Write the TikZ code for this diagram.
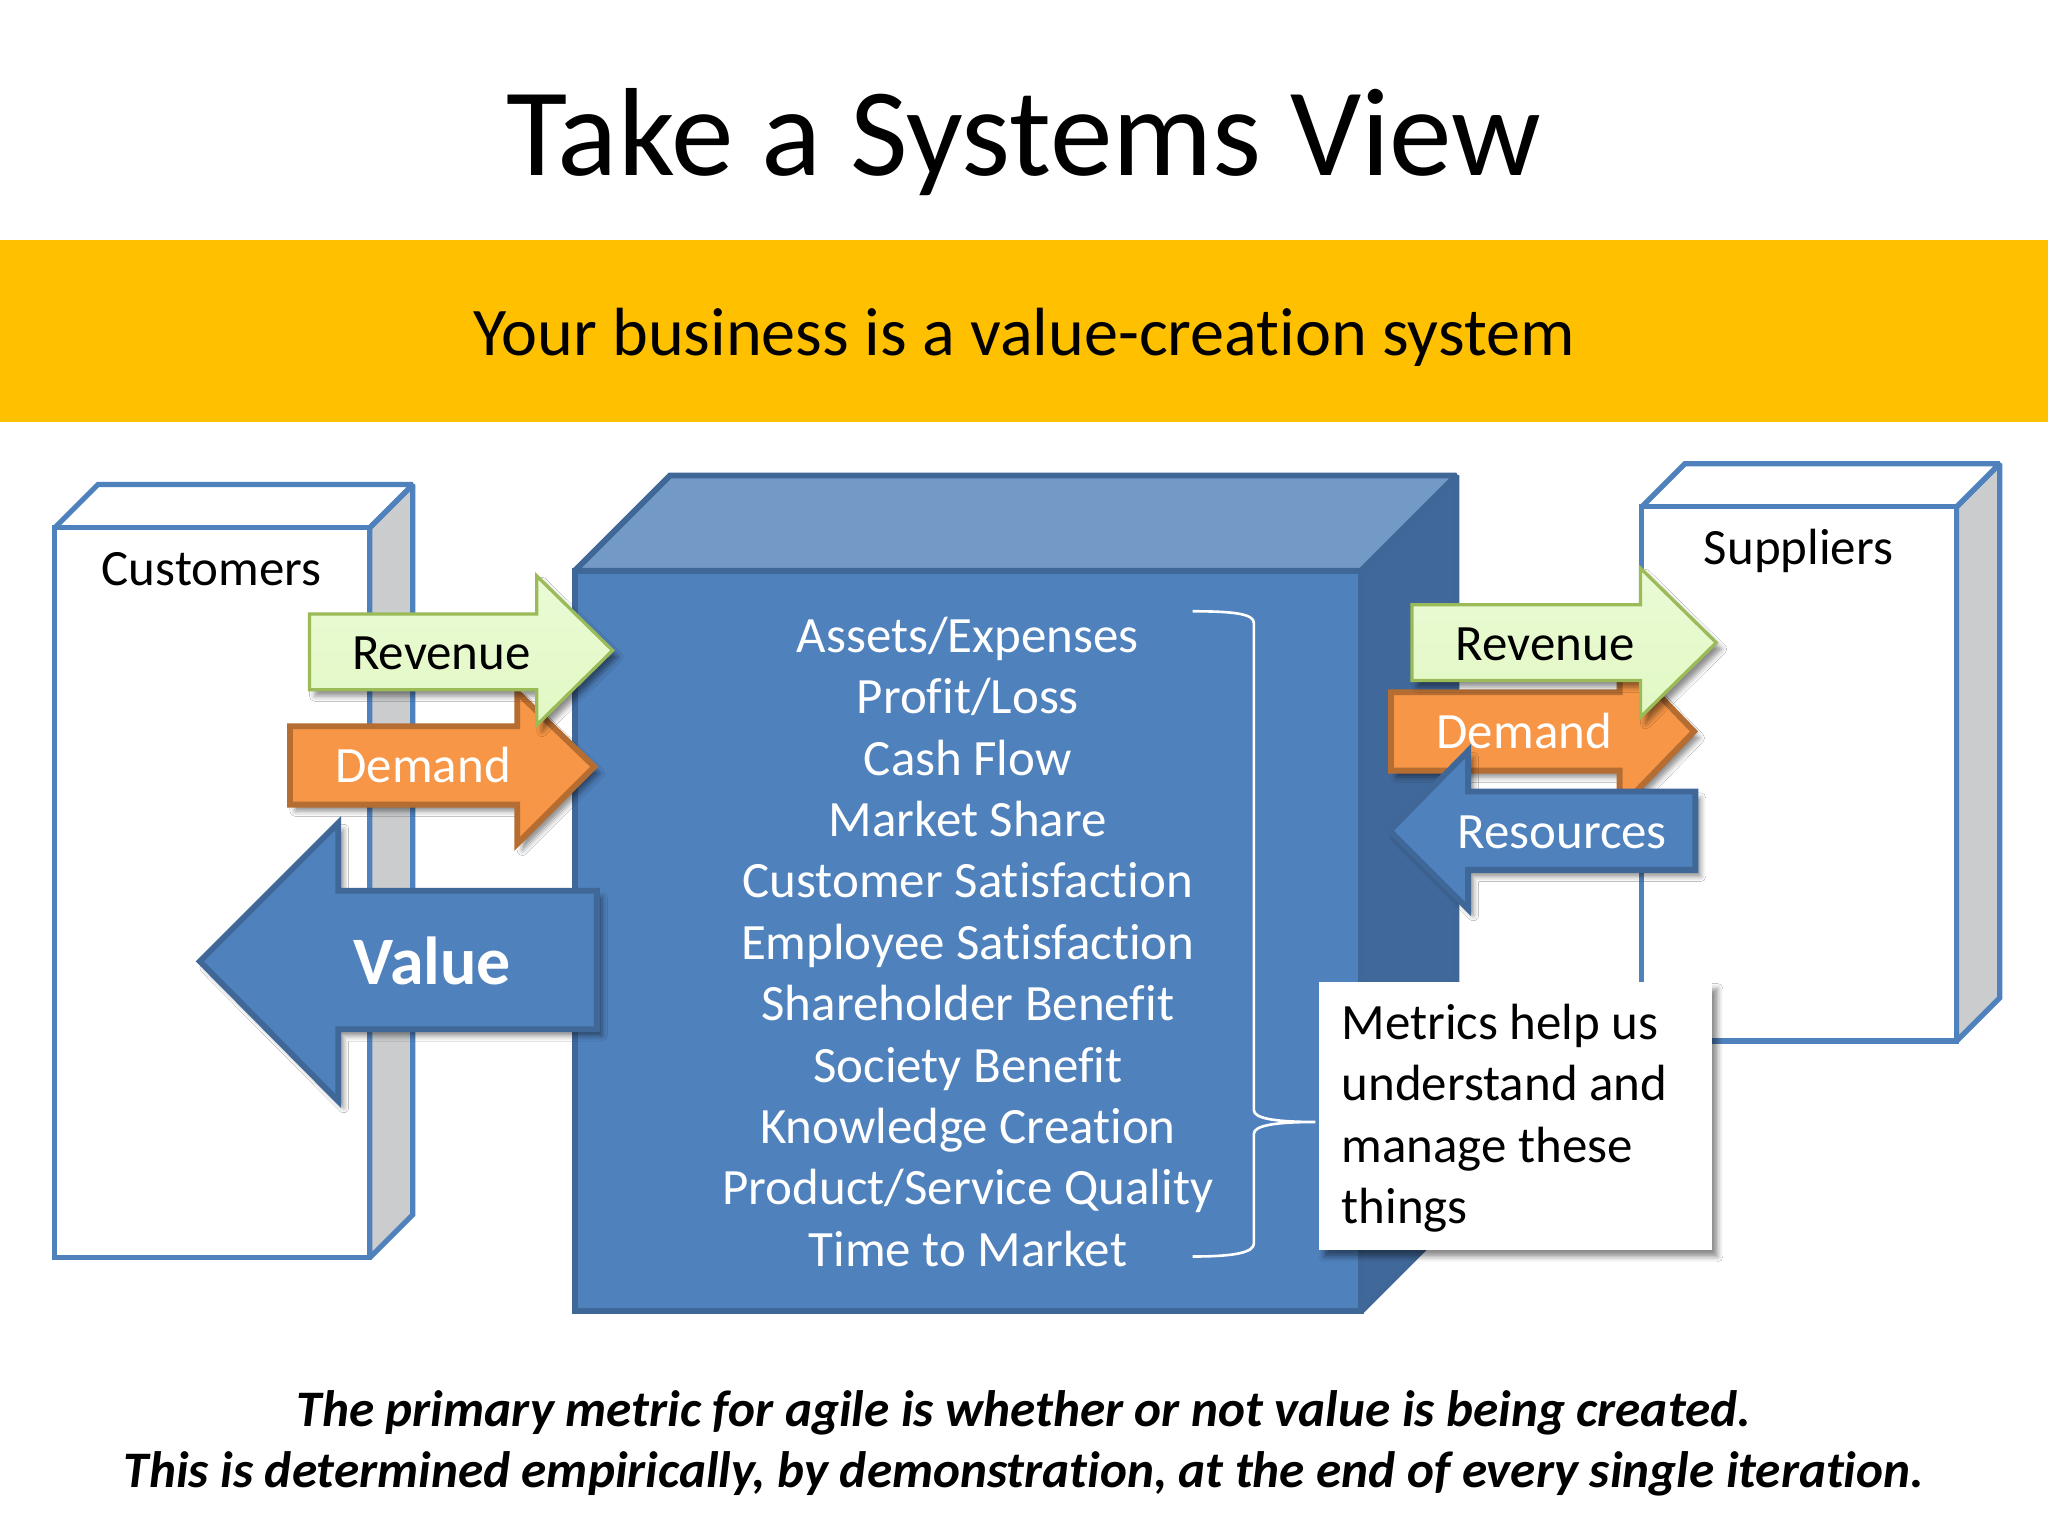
\documentclass[tikz,border=0pt]{standalone}
\usepackage{fontspec}
\setmainfont{Carlito}[Ligatures=NoCommon]
\usepackage{xcolor}
\usetikzlibrary{positioning, shadows, shadows.blur}
\definecolor{boxblue}{HTML}{4F81BD}
\definecolor{boxline}{HTML}{3F6797}
\definecolor{boxtop}{HTML}{7399C7}
\definecolor{boxside}{HTML}{41689A}
\definecolor{sidegray}{HTML}{CBCCCD}
\definecolor{band}{HTML}{FFC000}
\definecolor{orangefill}{HTML}{F79646}
\definecolor{orangeline}{HTML}{B66D31}
\definecolor{greenline}{HTML}{9BBB59}
\definecolor{greentop}{HTML}{EAFBD6}
\definecolor{greenbottom}{HTML}{E2F8C3}
\begin{document}
\begin{tikzpicture}[x=1pt, y=-1pt, line join=miter]
    \tikzset{
        frontbox/.style={draw=boxblue, line width=4pt, fill=white, miter limit=2},
        sidebox/.style={draw=boxblue, line width=4pt, fill=sidegray, miter limit=2},
        solid3d/.style={draw=boxline, line width=4.5pt, miter limit=2},
        softshadow/.style={blur shadow={shadow xshift=4pt, shadow yshift=-5pt, shadow blur radius=4pt, shadow opacity=45}},
        greenarrow/.style={draw=greenline, line width=2.5pt, top color=greentop, bottom color=greenbottom, softshadow},
        orangearrow/.style={draw=orangeline, line width=4.5pt, fill=orangefill, softshadow},
        bluearrow/.style={draw=boxline, line width=4.5pt, fill=boxblue, softshadow},
        lbl/.style={font=\fontsize{39}{47}\selectfont, inner sep=0pt, align=center},
    }
    \useasboundingbox (0,0) rectangle (1568,1176);
    \fill[white] (0,0) rectangle (1568,1176);
    \node [font=\fontsize{96}{110}\selectfont, inner sep=0pt] (title) at (784,109) {Take a Systems View};
    \fill[band] (0,184) rectangle (1568,323);
    \node [font=\fontsize{52.2}{60}\selectfont, inner sep=0pt] (subtitle) at (784,258) {Your business is a value-creation system};
    % customers
    \draw[sidebox] (283,404) -- (316,371) -- (316,930) -- (283,963) -- cycle;
    \draw[frontbox] (42,404) -- (75,371) -- (316,371) -- (283,404) -- cycle;
    \draw[frontbox] (42,404) rectangle (283,963);
    \node [lbl, black] (customers) at (162,436) {Customers};
    % suppliers
    \draw[sidebox] (1498,388) -- (1531,355) -- (1531,764) -- (1498,797) -- cycle;
    \draw[frontbox] (1257,388) -- (1290,355) -- (1531,355) -- (1498,388) -- cycle;
    \draw[frontbox] (1257,388) rectangle (1498,797);
    \node [lbl, black] (suppliers) at (1377,422) {Suppliers};
    % the business
    \draw[solid3d, fill=boxside] (1042,437) -- (1115,364) -- (1115,931) -- (1042,1004) -- cycle;
    \draw[solid3d, fill=boxtop] (440,437) -- (513,364) -- (1115,364) -- (1042,437) -- cycle;
    \draw[solid3d, fill=boxblue] (440,437) rectangle (1042,1004);
    \node [lbl, white] (metrics) at (741,721) {Assets/Expenses\\Profit/Loss\\Cash Flow\\Market Share\\Customer Satisfaction\\Employee Satisfaction\\Shareholder Benefit\\Society Benefit\\Knowledge Creation\\Product/Service Quality\\Time to Market};
    \draw[white, line width=2pt] (913,468) .. controls (945,468) and (960,470) .. (960,477)
        -- (960,850) .. controls (960,856) and (975,859) .. (1007,859)
        .. controls (975,859) and (960,862) .. (960,868)
        -- (960,952) .. controls (960,959) and (945,962) .. (913,962);
    % left arrows
    \draw[orangearrow] (222,556) -- (396,556) -- (396,530) -- (455,587) -- (396,646) -- (396,616) -- (222,616) -- cycle;
    \draw[greenarrow] (237,470) -- (411,470) -- (411,441) -- (469,498) -- (411,555) -- (411,528) -- (237,528) -- cycle;
    \draw[bluearrow] (457,682) -- (259,682) -- (259,630) -- (153,736) -- (259,843) -- (259,788) -- (457,788) -- cycle;
    \node [lbl, black] (revenueL) at (338,500) {Revenue};
    \node [lbl, white] (demandL) at (324,586) {Demand};
    \node [white, inner sep=0pt, font=\fontsize{52}{60}\selectfont\bfseries] (value) at (331,736) {Value};
    % right arrows
    \draw[orangearrow] (1065,530) -- (1240,530) -- (1240,501) -- (1297,560) -- (1240,619) -- (1240,590) -- (1065,590) -- cycle;
    \draw[greenarrow] (1081,463) -- (1256,463) -- (1256,435) -- (1314,492) -- (1256,549) -- (1256,521) -- (1081,521) -- cycle;
    \draw[bluearrow] (1298,606) -- (1124,606) -- (1124,575) -- (1064,636) -- (1124,696) -- (1124,666) -- (1298,666) -- cycle;
    \node [lbl, black] (revenueR) at (1183,493) {Revenue};
    \node [lbl, white] (demandR) at (1167,560) {Demand};
    \node [lbl, white] (resources) at (1196,637) {Resources};
    % note
    \fill[white, softshadow] (1010,752) rectangle (1311,957);
    \node [lbl, black, align=left, anchor=west] (note) at (1027,856) {Metrics help us\\understand and\\manage these\\things};
    % bottom line
    \node [lbl, black, font=\fontsize{39.2}{47}\selectfont\bfseries\itshape] (primary) at (784,1105) {The primary metric for agile is whether or not value is being created.\\This is determined empirically, by demonstration, at the end of every single iteration.};
\end{tikzpicture}
\end{document}
